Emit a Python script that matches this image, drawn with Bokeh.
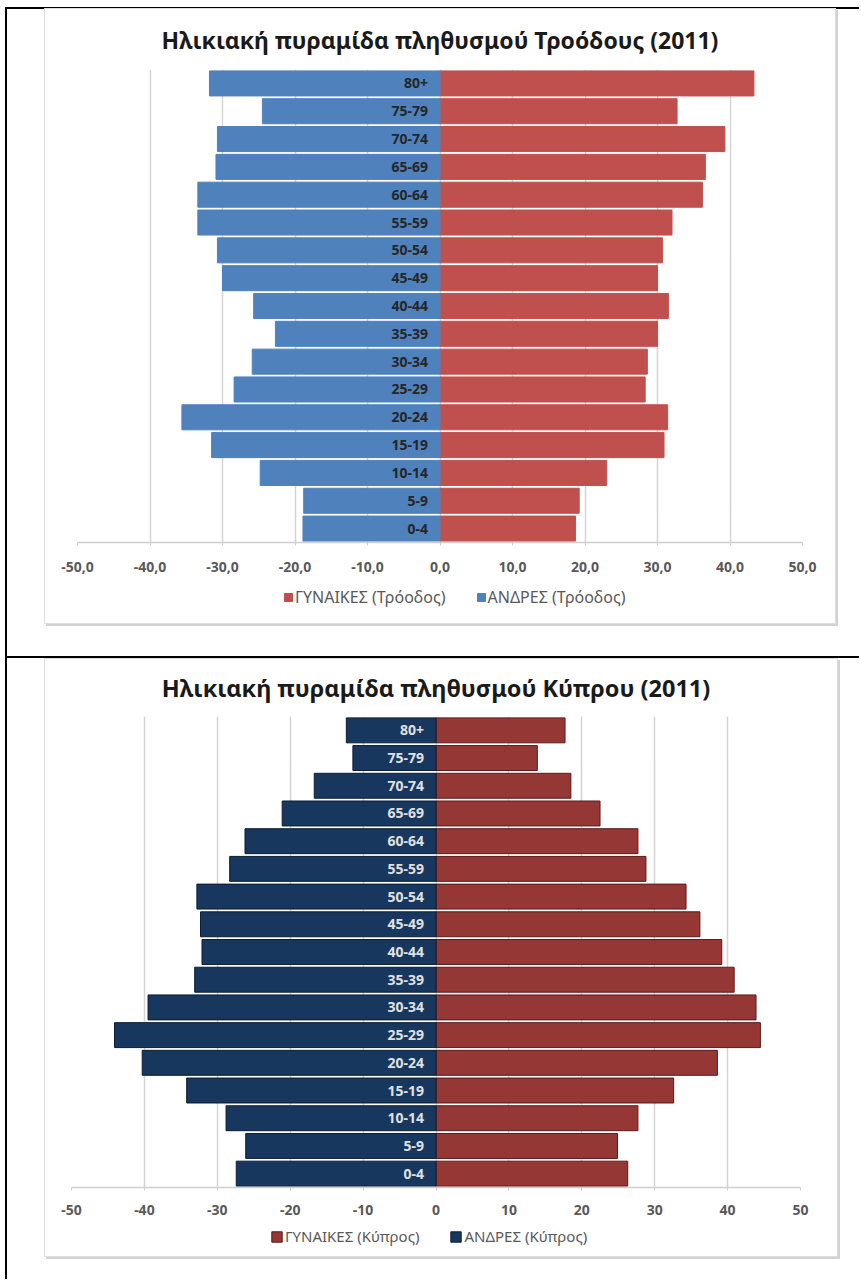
from bokeh.plotting import figure
from bokeh.models import (Range1d, FactorRange, FixedTicker, Legend, LegendItem,
                          Div, ColumnDataSource)
from bokeh.layouts import row, column
from bokeh.core.properties import value
from bokeh.embed import file_html
from bokeh.resources import INLINE

# ---------------- data ----------------
age_groups = ["0-4", "5-9", "10-14", "15-19", "20-24", "25-29", "30-34", "35-39",
              "40-44", "45-49", "50-54", "55-59", "60-64", "65-69", "70-74", "75-79", "80+"]

troodos_women = [18.7, 19.2, 23.0, 30.9, 31.4, 28.3, 28.6, 30.0, 31.5, 30.0,
                 30.7, 32.0, 36.2, 36.6, 39.3, 32.7, 43.3]
troodos_men = [-18.9, -18.8, -24.8, -31.5, -35.6, -28.4, -25.9, -22.7, -25.7, -30.0,
               -30.7, -33.4, -33.4, -30.9, -30.7, -24.5, -31.8]

cyprus_women = [26.3, 24.9, 27.7, 32.6, 38.6, 44.5, 43.9, 40.9, 39.2, 36.2,
                34.3, 28.8, 27.7, 22.5, 18.5, 13.9, 17.7]
cyprus_men = [-27.4, -26.1, -28.8, -34.2, -40.3, -44.1, -39.5, -33.1, -32.1, -32.3,
              -32.8, -28.3, -26.2, -21.1, -16.7, -11.4, -12.3]

x_ticks = [-50, -40, -30, -20, -10, 0, 10, 20, 30, 40, 50]
troodos_tick_labels = ["-50,0", "-40,0", "-30,0", "-20,0", "-10,0", "0,0",
                       "10,0", "20,0", "30,0", "40,0", "50,0"]
cyprus_tick_labels = ["-50", "-40", "-30", "-20", "-10", "0",
                      "10", "20", "30", "40", "50"]

troodos_title = "Ηλικιακή πυραμίδα πληθυσμού Τροόδους (2011)"
cyprus_title = "Ηλικιακή πυραμίδα πληθυσμού Κύπρου (2011)"
troodos_legend = ["ΓΥΝΑΙΚΕΣ (Τρόοδος)", "ΑΝΔΡΕΣ (Τρόοδος)"]
cyprus_legend = ["ΓΥΝΑΙΚΕΣ (Κύπρος)", "ΑΝΔΡΕΣ (Κύπρος)"]

FONT = "Noto Sans"
BOX_STYLE = {"box-shadow": "0 0 0 1px #dedede, 2px 2px 0 1px #d2d2d2",
             "background-color": "white"}


def make_chart(title, women, men, tick_labels, legend_labels, women_color, men_color,
               bar_line, cat_color, width, height, bl, br, bt, bb, title_size,
               title_standoff, label_standoff, leg_height, leg_loc, glyph,
               leg_font_size):
    src = ColumnDataSource(dict(age=age_groups, women=women, men=men))

    # --- main plot ---
    p = figure(width=width, height=height, output_backend="svg", toolbar_location=None,
               y_range=FactorRange(factors=age_groups), x_range=Range1d(-50, 50),
               min_border_left=bl, min_border_right=br, min_border_top=bt,
               min_border_bottom=bb)
    p.outline_line_color = None
    p.background_fill_color = "white"
    p.border_fill_color = "white"

    p.hbar(y="age", left=0, right="women", height=0.9, source=src,
           fill_color=women_color, line_color=bar_line[0], line_width=1)
    p.hbar(y="age", left="men", right=0, height=0.9, source=src,
           fill_color=men_color, line_color=bar_line[1], line_width=1)
    p.text(x=0, y="age", text="age", source=src, x_offset=-12,
           text_align="right", text_baseline="middle",
           text_font=value(FONT), text_font_style="bold", text_font_size="14px",
           text_color=cat_color)

    p.yaxis.visible = False
    p.ygrid.grid_line_color = None
    p.xgrid.ticker = FixedTicker(ticks=x_ticks)
    p.xgrid.grid_line_color = "#d4d4d4"
    p.xgrid.grid_line_width = 1.5
    p.xaxis.ticker = FixedTicker(ticks=x_ticks)
    p.xaxis.major_label_overrides = {t: lab for t, lab in zip(x_ticks, tick_labels)}
    p.xaxis.axis_line_color = "#cfcfcf"
    p.xaxis.axis_line_width = 1.5
    p.xaxis.major_tick_line_color = "#cfcfcf"
    p.xaxis.major_tick_in = 0
    p.xaxis.major_tick_out = 3
    p.xaxis.minor_tick_line_color = None
    p.xaxis.major_label_standoff = label_standoff
    p.xaxis.major_label_text_font = FONT
    p.xaxis.major_label_text_font_style = "bold"
    p.xaxis.major_label_text_font_size = "14px"
    p.xaxis.major_label_text_color = "#595959"

    p.title.text = title
    p.title.align = "center"
    p.title.vertical_align = "top"
    p.title.text_font = FONT
    p.title.text_font_style = "bold"
    p.title.text_font_size = title_size
    p.title.text_color = "#1a1a1a"
    p.title.standoff = title_standoff

    # --- legend strip (same series, legend only) ---
    lg = figure(width=width, height=leg_height, output_backend="svg",
                toolbar_location=None, x_range=Range1d(-50, 50),
                y_range=FactorRange(factors=age_groups),
                x_axis_location=None, y_axis_location=None,
                min_border_left=0, min_border_right=0, min_border_top=0,
                min_border_bottom=0)
    lg.outline_line_color = None
    lg.grid.visible = False
    lg.background_fill_color = "white"
    lg.border_fill_color = "white"
    lw = lg.hbar(y="age", left=0, right="women", height=0.9, source=src,
                 fill_color=women_color, line_color=bar_line[0], line_width=1,
                 visible=False)
    lm = lg.hbar(y="age", left="men", right=0, height=0.9, source=src,
                 fill_color=men_color, line_color=bar_line[1], line_width=1,
                 visible=False)
    legend = Legend(items=[LegendItem(label=legend_labels[0], renderers=[lw]),
                           LegendItem(label=legend_labels[1], renderers=[lm])],
                    orientation="horizontal", location=leg_loc,
                    border_line_color=None, background_fill_alpha=0,
                    inactive_fill_alpha=0,
                    label_text_font=FONT, label_text_font_size=leg_font_size,
                    label_text_color="#595959", glyph_width=glyph, glyph_height=glyph,
                    label_standoff=2, spacing=30, padding=0, margin=0)
    lg.add_layout(legend)

    return column(p, lg, spacing=0, styles=BOX_STYLE)


box1 = make_chart(troodos_title, troodos_women, troodos_men, troodos_tick_labels,
                  troodos_legend, "#C0504D", "#4F81BD", ("#C0504D", "#4F81BD"),
                  "#262626", 790, 572, 32, 33, 60, 39, "23px", 23, 16,
                  42, (206, 15), 10, "16px")
box1.margin = (0, 0, 33, 38)

box2 = make_chart(cyprus_title, cyprus_women, cyprus_men, cyprus_tick_labels,
                  cyprus_legend, "#953735", "#17375E", ("#5a1a18", "#0b1d33"),
                  "#e0e0e0", 792, 565, 26, 37, 57, 37, "23.5px", 22, 14,
                  32, (199, 10), 13, "15px")
box2.margin = (1, 0, 0, 38)

hline1 = Div(text="", width=852, height=2, margin=(0, 0, 0, 0),
             styles={"background-color": "black"})
hline2 = Div(text="", width=852, height=2, margin=(0, 0, 0, 0),
             styles={"background-color": "black"})
vline = Div(text="", width=2, height=1272, margin=(7, 0, 0, 5),
            styles={"background-color": "black"})

cells = column(hline1, box1, hline2, box2, spacing=0)
cells.margin = (7, 0, 0, 0)
layout = row(vline, cells, spacing=0)

open("out.html", "w").write(file_html(layout, INLINE))
